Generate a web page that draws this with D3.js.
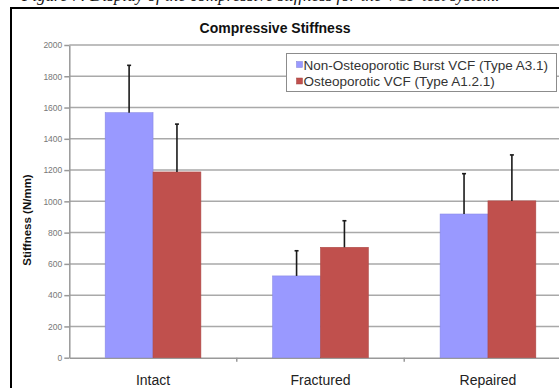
<!DOCTYPE html>
<html>
<head>
<meta charset="utf-8">
<script src="https://cdn.jsdelivr.net/npm/d3@7"></script>
<style>
  html, body { margin: 0; padding: 0; background: #fff; }
  svg { display: block; }
</style>
</head>
<body>
<svg id="chart" width="559" height="388"></svg>
<script>
// Compressive stiffness per specimen state, mean with +1 SD error bars
const categories = ["Intact", "Fractured", "Repaired"];
const seriesNames = ["Non-Osteoporotic Burst VCF (Type A3.1)", "Osteoporotic VCF (Type A1.2.1)"];
const nonOsteoMean = [1567, 523, 919];
const nonOsteoSD = [303, 161, 258];
const osteoMean = [1188, 706, 1003];
const osteoSD = [306, 170, 294];
const yTicks = [0, 200, 400, 600, 800, 1000, 1200, 1400, 1600, 1800, 2000];
const seriesColors = ["#9999ff", "#c0504d"];

const svg = d3.select("#chart");

// caption line of the page above the chart frame
svg.append("text")
  .attr("x", 22).attr("y", 0.5)
  .attr("font-family", "Liberation Serif, Times New Roman, serif")
  .attr("font-style", "italic")
  .attr("font-size", 17)
  .attr("fill", "#111")
  .text("Figure 7: Display of the compressive stiffness for the VCF test system.");

// chart frame
svg.append("rect")
  .attr("x", 11).attr("y", 8)
  .attr("width", 570).attr("height", 400)
  .attr("fill", "#fff")
  .attr("stroke", "#000").attr("stroke-width", 2);

const plot = { left: 69.3, right: 571.7, top: 45, bottom: 357.7 };

const x0 = d3.scaleBand().domain(categories).range([plot.left, plot.right]).padding(0);
const barW = x0.bandwidth() / 3.5;
const x1 = d3.scaleBand().domain(seriesNames)
  .range([0.75 * barW, 2.75 * barW]).padding(0);
const y = d3.scaleLinear().domain([0, 2000]).range([plot.bottom, plot.top]);

// horizontal gridlines
svg.append("g").selectAll("line").data(yTicks.filter(d => d > 0)).join("line")
  .attr("x1", plot.left).attr("x2", plot.right)
  .attr("y1", d => y(d)).attr("y2", d => y(d))
  .attr("stroke", "#a9a9a9").attr("stroke-width", 1.5);

// y axis
const yAxis = svg.append("g")
  .attr("transform", `translate(${plot.left},0)`)
  .call(d3.axisLeft(y).tickValues(yTicks).tickFormat(d3.format("d"))
    .tickSize(5).tickPadding(2).tickSizeOuter(0));
yAxis.select(".domain").attr("stroke", "#999").attr("stroke-width", 1.5);
yAxis.selectAll(".tick line").attr("stroke", "#999").attr("stroke-width", 1.5);
yAxis.selectAll(".tick text")
  .attr("font-family", "Liberation Sans, Arial, sans-serif")
  .attr("font-size", 8.5).attr("fill", "#777");

// x axis
const xAxis = svg.append("g")
  .attr("transform", `translate(0,${plot.bottom})`)
  .call(d3.axisBottom(x0).tickSize(0).tickPadding(17));
xAxis.select(".domain").attr("stroke", "#999").attr("stroke-width", 1.5);
xAxis.selectAll(".tick text")
  .attr("font-family", "Liberation Sans, Arial, sans-serif")
  .attr("font-size", 14).attr("fill", "#222");
// category divider ticks
svg.append("g").selectAll("line").data(categories.slice(1)).join("line")
  .attr("x1", d => x0(d)).attr("x2", d => x0(d))
  .attr("y1", plot.bottom).attr("y2", plot.bottom + 4)
  .attr("stroke", "#999").attr("stroke-width", 1.5);

const rows = categories.map((c, i) => ({
  cat: c,
  values: [
    { name: seriesNames[0], mean: nonOsteoMean[i], sd: nonOsteoSD[i], color: seriesColors[0] },
    { name: seriesNames[1], mean: osteoMean[i], sd: osteoSD[i], color: seriesColors[1] }
  ]
}));

const groups = svg.append("g").selectAll("g").data(rows).join("g")
  .attr("transform", d => `translate(${x0(d.cat)},0)`);

groups.selectAll("rect").data(d => d.values).join("rect")
  .attr("x", d => x1(d.name))
  .attr("width", x1.bandwidth())
  .attr("y", d => y(d.mean))
  .attr("height", d => y(0) - y(d.mean))
  .attr("fill", d => d.color)
  .attr("stroke", d => d3.color(d.color).darker(0.3))
  .attr("stroke-width", 0.6);

// upper error bars
groups.selectAll("g.err").data(d => d.values).join("g").attr("class", "err")
  .each(function (d) {
    const g = d3.select(this);
    const cx = x1(d.name) + x1.bandwidth() / 2;
    g.append("line")
      .attr("x1", cx).attr("x2", cx)
      .attr("y1", y(d.mean)).attr("y2", y(d.mean + d.sd))
      .attr("stroke", "#1a1a1a").attr("stroke-width", 1.6);
    g.append("line")
      .attr("x1", cx - 2).attr("x2", cx + 2)
      .attr("y1", y(d.mean + d.sd)).attr("y2", y(d.mean + d.sd))
      .attr("stroke", "#1a1a1a").attr("stroke-width", 1.6);
  });

// title
svg.append("text")
  .attr("x", 275).attr("y", 33)
  .attr("text-anchor", "middle")
  .attr("font-family", "Liberation Sans, Arial, sans-serif")
  .attr("font-weight", "bold").attr("font-size", 14)
  .attr("fill", "#111")
  .text("Compressive Stiffness");

// y axis title
svg.append("text")
  .attr("transform", "translate(31,220) rotate(-90)")
  .attr("text-anchor", "middle")
  .attr("font-family", "Liberation Sans, Arial, sans-serif")
  .attr("font-weight", "bold").attr("font-size", 11.5)
  .attr("fill", "#111")
  .text("Stiffness (N/mm)");

// legend
const legend = svg.append("g");
legend.append("rect")
  .attr("x", 286.5).attr("y", 53.5)
  .attr("width", 270).attr("height", 38)
  .attr("fill", "#fff").attr("stroke", "#8c8c8c").attr("stroke-width", 1);
seriesNames.forEach((name, i) => {
  const cy = 65 + i * 16.5;
  legend.append("rect")
    .attr("x", 296.5).attr("y", cy - 3.5)
    .attr("width", 6).attr("height", 6)
    .attr("fill", seriesColors[i])
    .attr("stroke", d3.color(seriesColors[i]).darker(0.5)).attr("stroke-width", 0.5);
  legend.append("text")
    .attr("x", 303.5).attr("y", cy + 4.5)
    .attr("font-family", "Liberation Sans, Arial, sans-serif")
    .attr("font-size", 13.5).attr("fill", "#333")
    .text(name);
});
</script>
</body>
</html>
